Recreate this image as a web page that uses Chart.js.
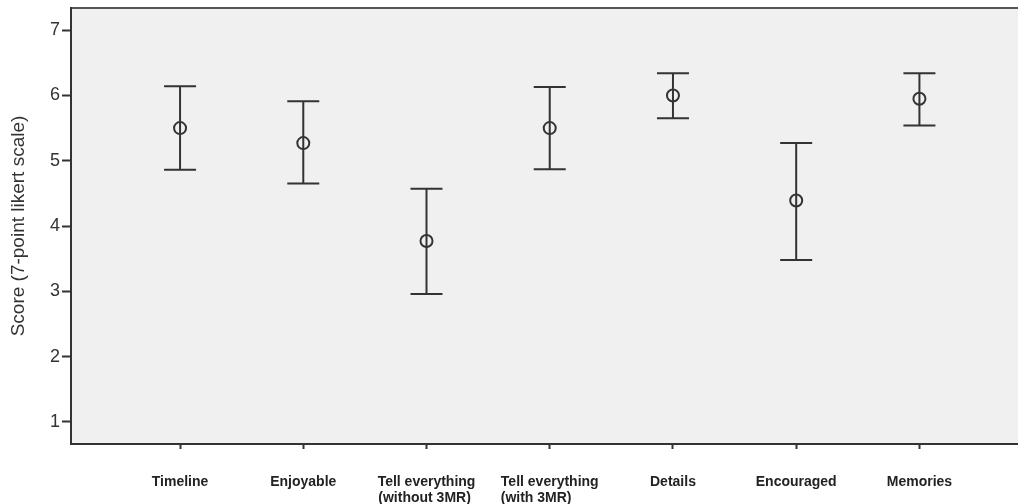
<!DOCTYPE html>
<html>
<head>
<meta charset="utf-8">
<script src="https://cdn.jsdelivr.net/npm/chart.js@4/dist/chart.umd.min.js"></script>
<style>
  html, body { margin: 0; padding: 0; background: #fff; }
  #wrap { width: 1018px; height: 504px; position: relative; }
</style>
</head>
<body>
<div id="wrap"><canvas id="errChart"></canvas></div>
<script>
// categories, means and 95% CI ends
const categories = [
    'Timeline',
    'Enjoyable',
    ['Tell everything', '(without 3MR)'],
    ['Tell everything', '(with 3MR)'],
    'Details',
    'Encouraged',
    'Memories'
];
const means = [5.50, 5.27, 3.77, 5.50, 6.00, 4.39, 5.95];
const upper = [6.14, 5.91, 4.57, 6.13, 6.34, 5.27, 6.34];
const lower = [4.86, 4.65, 2.96, 4.87, 5.65, 3.48, 5.54];
const yTicks = [1, 2, 3, 4, 5, 6, 7];

const ink = '#333333';
const labelFont = { family: '"Liberation Sans", Arial, sans-serif', size: 14, weight: 'bold', lineHeight: 1.08 };

// pad the second line of a two-line label so both lines start at the same x
const measureCtx = document.createElement('canvas').getContext('2d');
measureCtx.font = 'bold 14px "Liberation Sans", Arial, sans-serif';
function leftAlignLines(lines) {
    if (!Array.isArray(lines)) return lines;
    const w0 = measureCtx.measureText(lines[0]).width;
    let second = lines[1];
    while (measureCtx.measureText(second + ' ').width <= w0 + 2) second += ' ';
    return [lines[0], second];
}

// plot background, top frame line and the error bars
const framePlugin = {
    id: 'frame',
    beforeDraw(chart) {
        const { ctx, chartArea: a } = chart;
        ctx.save();
        ctx.fillStyle = '#f0f0f0';
        ctx.fillRect(a.left, a.top, a.right - a.left, a.bottom - a.top);
        ctx.strokeStyle = '#555';
        ctx.lineWidth = 2;
        ctx.beginPath();
        ctx.moveTo(a.left, a.top);
        ctx.lineTo(a.right, a.top);
        ctx.stroke();
        ctx.restore();
    },
    beforeDatasetsDraw(chart) {
        const { ctx, scales: { x, y } } = chart;
        const cap = 16;
        ctx.save();
        ctx.strokeStyle = ink;
        ctx.lineWidth = 2;
        means.forEach((m, i) => {
            const px = x.getPixelForValue(i + 1);
            const top = y.getPixelForValue(upper[i]);
            const bot = y.getPixelForValue(lower[i]);
            ctx.beginPath();
            ctx.moveTo(px, top);
            ctx.lineTo(px, bot);
            ctx.moveTo(px - cap, top);
            ctx.lineTo(px + cap, top);
            ctx.moveTo(px - cap, bot);
            ctx.lineTo(px + cap, bot);
            ctx.stroke();
        });
        ctx.restore();
    }
};

new Chart(document.getElementById('errChart'), {
    type: 'scatter',
    data: {
        datasets: [{
            data: means.map((m, i) => ({ x: i + 1, y: m })),
            pointStyle: 'circle',
            pointRadius: 6,
            pointHoverRadius: 6,
            borderColor: ink,
            borderWidth: 2,
            backgroundColor: 'rgba(0,0,0,0)'
        }]
    },
    options: {
        responsive: true,
        maintainAspectRatio: false,
        animation: false,
        layout: { autoPadding: false, padding: { top: 8, right: 0, left: 0, bottom: 0 } },
        plugins: {
            legend: { display: false },
            tooltip: { enabled: false }
        },
        scales: {
            x: {
                type: 'linear',
                min: 0.115,
                max: 7.8,
                afterBuildTicks: s => { s.ticks = categories.map((c, i) => ({ value: i + 1 })); },
                afterFit: s => { s.height = 60; },
                grid: { drawOnChartArea: false, tickLength: 5, tickWidth: 2, color: ink },
                border: { display: true, color: ink, width: 2 },
                ticks: {
                    padding: 26,
                    maxRotation: 0,
                    autoSkip: false,
                    color: '#222',
                    font: labelFont,
                    callback: v => leftAlignLines(categories[v - 1])
                }
            },
            y: {
                min: 0.66,
                max: 7.34,
                afterBuildTicks: s => { s.ticks = yTicks.map(v => ({ value: v })); },
                afterFit: s => { s.width = 71; s.paddingTop = 0; s.paddingBottom = 0; },
                grid: { drawOnChartArea: false, tickLength: 9, tickWidth: 2, color: ink },
                border: { display: true, color: ink, width: 2 },
                ticks: {
                    padding: 2,
                    color: '#333',
                    font: { family: '"Liberation Sans", Arial, sans-serif', size: 18 }
                },
                title: {
                    display: true,
                    text: 'Score (7-point likert scale)',
                    color: '#333',
                    font: { family: '"Liberation Sans", Arial, sans-serif', size: 19 },
                    padding: { top: 7, bottom: 0 }
                }
            }
        }
    },
    plugins: [framePlugin]
});
</script>
</body>
</html>
